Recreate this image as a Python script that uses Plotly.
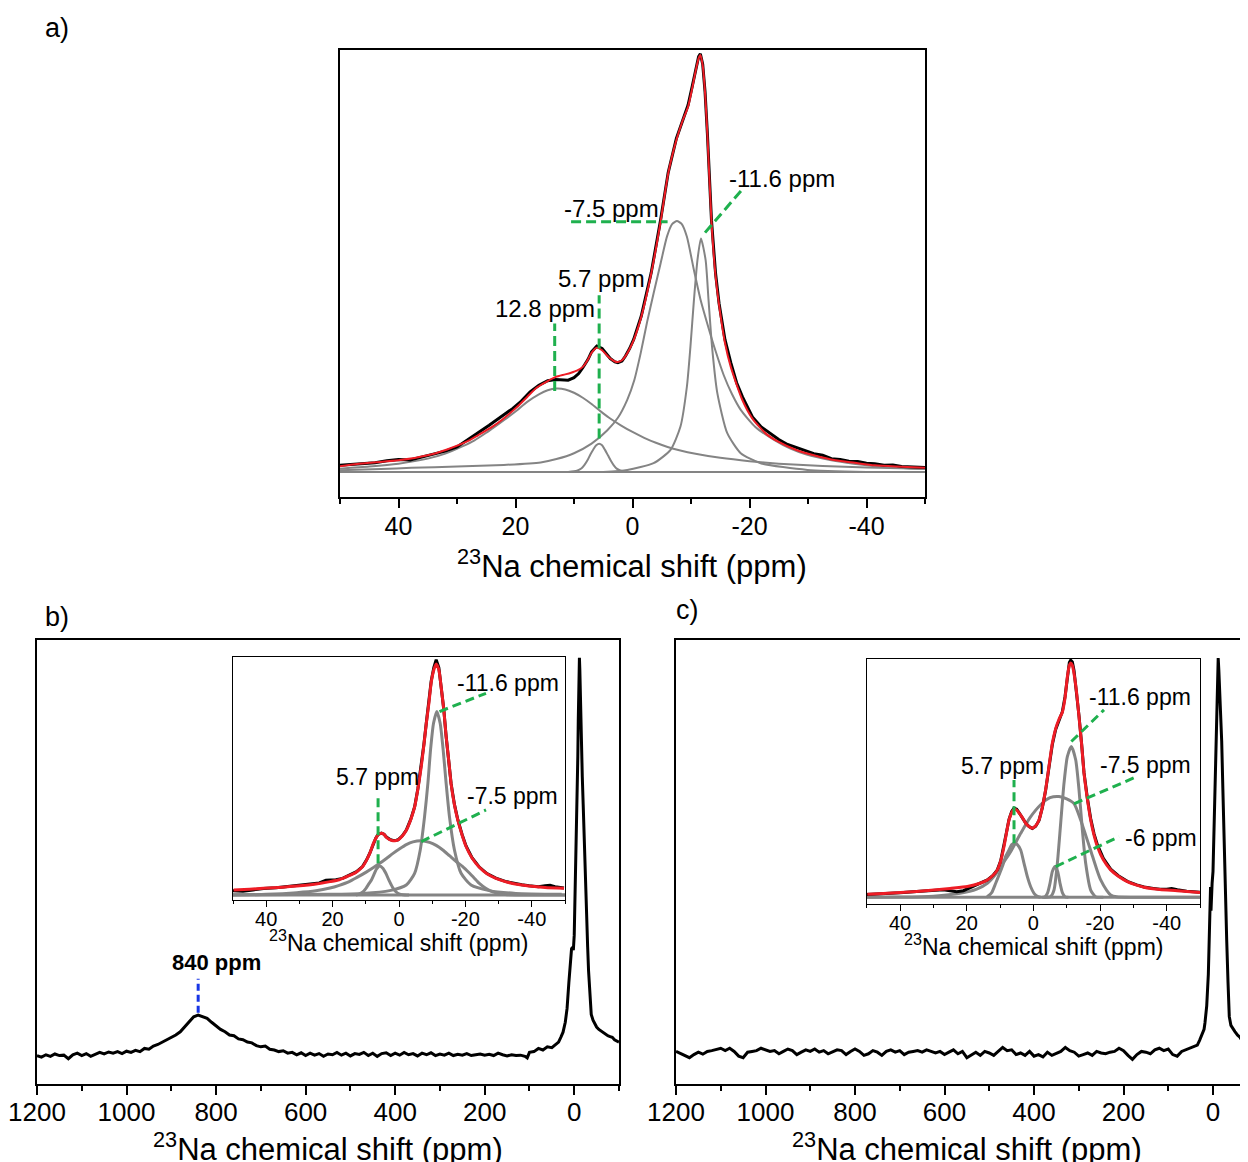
import plotly.graph_objects as go

# ---------------- DATA ----------------
# Panel a : (ppm, normalised intensity)
A_EXP = [(50, .016), (48, .018), (46, .021), (44, .022), (42, .027), (40, .030), (38, .029), (36, .036),
         (34, .042), (32, .050), (30, .060), (28, .078), (26.4, .094), (24.5, .112), (22.4, .134),
         (20.5, .152), (19, .170), (17.5, .192), (16, .208), (14.5, .219), (13.1, .222), (12, .221),
         (11, .220), (10, .226), (9.2, .236), (8.5, .250), (7.6, .270), (7.0, .288), (6.1, .302),
         (5.2, .296), (4.4, .282), (3.8, .272), (3.0, .264), (2.5, .262), (1.8, .266), (1.2, .278),
         (0.5, .296), (-0.2, .318), (-1.5, .374), (-3.2, .478), (-4.8, .604), (-6.1, .718), (-7.5, .800),
         (-8.5, .842), (-9.5, .880), (-10.2, .924), (-10.8, .966), (-11.3, .996), (-11.6, 1.003),
         (-12.0, .978), (-12.4, .912), (-12.8, .812), (-13.5, .604), (-14.2, .476), (-14.8, .404),
         (-15.8, .318), (-16.8, .262), (-17.8, .214), (-18.8, .180), (-20.5, .132), (-22, .108),
         (-22.8, .100), (-24, .086), (-25, .078), (-26.5, .066), (-28.1, .058), (-29.5, .050), (-31, .044),
         (-32.5, .040), (-34, .032), (-35.5, .030), (-37, .026), (-38.5, .025), (-40, .021), (-41.4, .020),
         (-43, .016), (-44.5, .017), (-46, .013), (-48, .012), (-50, .011)]
A_FIT = [(50, .014), (45, .022), (40, .028), (35, .040), (31.7, .054), (28, .075), (26.4, .088), (24, .108),
         (22.4, .124), (19.8, .155), (18, .180), (16.4, .202), (14.5, .218), (13.1, .228), (11.5, .234),
         (10.5, .238), (9.5, .243), (8.5, .252), (7.6, .270), (7.0, .286), (6.1, .298), (5.2, .292),
         (4.4, .280), (3.8, .272), (3.0, .265), (2.5, .264), (1.8, .268), (1.2, .278), (0.5, .295),
         (-0.2, .316), (-1.5, .372), (-3.2, .476), (-4.8, .600), (-6.1, .716), (-7.5, .796), (-8.5, .840),
         (-9.5, .876), (-10.2, .920), (-10.8, .962), (-11.3, .992), (-11.6, 1.0), (-12.0, .975),
         (-12.4, .910), (-12.8, .810), (-13.5, .600), (-14.2, .470), (-14.8, .400), (-15.8, .310),
         (-16.8, .252), (-18.8, .172), (-20.5, .128), (-22.8, .092), (-25, .072), (-28.1, .052), (-31, .040),
         (-34.7, .028), (-38, .022), (-41.4, .016), (-45, .013), (-50, .010)]
A_C128 = [(50, .008), (45, .013), (40, .02), (35, .032), (32, .044), (29, .062), (27, .076), (25, .094),
          (24, .104), (22, .124), (20, .145), (18, .168), (16, .186), (14.5, .196), (13, .200), (11.5, .198),
          (10, .190), (8.5, .178), (7, .163), (5.5, .146), (4, .130), (2, .112), (0, .096), (-2, .082),
          (-4, .070), (-6, .060), (-8, .052), (-11, .043), (-15, .034), (-20, .026), (-25, .020), (-30, .016),
          (-35, .013), (-40, .011), (-50, .008)]
A_C57 = [(11, 0), (9.5, .003), (8.7, .009), (8.2, .017), (7.7, .028), (7.2, .042), (6.7, .054), (6.2, .064),
         (5.7, .068), (5.2, .064), (4.7, .053), (4.2, .040), (3.7, .027), (3.2, .016), (2.7, .008), (2.0, .003),
         (0.5, 0)]
A_C75 = [(50, .004), (43, .007), (37.8, .010), (30, .013), (22, .017), (15.7, .023), (13, .031), (10, .045),
         (7, .068), (4.3, .100), (2.5, .130), (0.9, .173), (-0.3, .220), (-1.4, .285), (-2.5, .360),
         (-3.6, .428), (-4.8, .500), (-5.9, .565), (-6.8, .595), (-7.6, .602), (-8.4, .595), (-9.3, .564),
         (-10.5, .484), (-11.6, .415), (-12.8, .355), (-14.2, .290), (-15.6, .232), (-17, .187), (-18.5, .149),
         (-21, .108), (-24.2, .077), (-27, .056), (-29.9, .041), (-34, .028), (-37.8, .020), (-43, .012),
         (-50, .007)]
A_C116 = [(5, 0), (0.9, .005), (-3.6, .021), (-6.5, .053), (-8.2, .109), (-9.3, .205), (-9.9, .300),
          (-10.5, .412), (-11.1, .508), (-11.7, .560), (-12.5, .508), (-13.0, .412), (-13.6, .300),
          (-14.5, .189), (-16.2, .093), (-18.5, .045), (-21.9, .021), (-29.9, .005), (-40, 0)]
A_BASE = [(50, 0), (-50, 0)]
A_MARKS = [[(13.3, .194), (13.3, .356)], [(5.7, .08), (5.7, .424)],
           [(10.5, .60), (-6.0, .60)], [(-12.4, .574), (-18.9, .68)]]
A_LABELS = [("12.8 ppm", 15.0, .393), ("5.7 ppm", 5.3, .465), ("-7.5 ppm", 3.6, .633), ("-11.6 ppm", -25.6, .703)]

# Panel b : full spectrum (ppm, intensity)
B_EXP = [(1200, -.004), (1190, -.008), (1180, -.002), (1170, -.006), (1160, .000), (1150, -.004), (1140, -.003),
         (1130, -.012), (1120, -.002), (1110, .002), (1100, -.004), (1090, .001), (1080, -.006), (1070, -.001),
         (1060, .004), (1050, .000), (1040, .005), (1030, .002), (1020, .006), (1010, .001), (1000, .007),
         (990, .004), (980, .009), (970, .006), (960, .014), (950, .012), (940, .020), (930, .024), (920, .030),
         (910, .034), (900, .040), (890, .048), (880, .056), (870, .068), (860, .080), (850, .094), (840, .098),
         (830, .094), (820, .090), (810, .080), (800, .070), (790, .062), (780, .056), (770, .048), (760, .046),
         (750, .038), (740, .036), (730, .030), (720, .028), (710, .021), (700, .018), (690, .020), (680, .012),
         (670, .010), (660, .006), (650, .008), (640, .002), (630, .004), (620, -.002), (610, .003), (600, -.004),
         (590, .002), (580, -.003), (570, .001), (560, -.006), (550, .000), (540, -.002), (530, .004),
         (520, -.003), (510, .002), (500, -.005), (490, .001), (480, -.001), (470, .004), (460, -.004),
         (450, .002), (440, -.006), (430, .001), (420, .003), (410, -.004), (400, .002), (390, -.003),
         (380, .004), (370, -.002), (360, .001), (350, -.005), (340, .002), (330, -.002), (320, .003),
         (310, -.004), (300, .000), (290, -.003), (280, .002), (270, -.004), (260, -.001), (250, -.003),
         (240, .001), (230, -.004), (220, -.002), (210, .000), (200, -.003), (190, -.001), (180, -.004),
         (170, .002), (160, -.002), (150, -.005), (140, -.002), (130, -.004), (120, -.003), (110, -.006),
         (105, -.010), (100, .004), (90, .006), (80, .014), (70, .010), (60, .018), (50, .016), (40, .026),
         (35, .030), (30, .042), (25, .055), (20, .080), (16, .115), (12, .180), (8, .250), (6, .265),
         (4, .270), (2, .262), (0, .300), (-2, .400), (-4, .520), (-6, .630), (-8, .750), (-9, .840),
         (-10, .930), (-11, .990), (-11.6, 1.0), (-12.5, .970), (-14, .880), (-16, .780), (-18, .700),
         (-20, .630), (-22, .550), (-24, .460), (-26, .390), (-28, .330), (-30, .270), (-32, .210),
         (-34, .160), (-36, .120), (-38, .100), (-42, .085), (-46, .075), (-50, .068), (-55, .062),
         (-60, .058), (-65, .052), (-70, .050), (-75, .046), (-80, .044), (-85, .042), (-90, .036),
         (-95, .032), (-100, .030)]
B_MARK_840 = [(840, .104), (840, .19)]
B_LABEL_840 = ("840 ppm", 799, .232)

# Panel b inset
BI_EXP = [(50, .018), (47, .016), (44, .022), (40.8, .028), (37, .031), (34, .036), (30.8, .040), (27, .045),
          (24, .052), (22, .064), (20.5, .066), (19, .066), (17, .072), (15.8, .080), (14, .091), (12.8, .101),
          (11, .123), (9.8, .151), (8.8, .181), (7.8, .221), (7, .246), (6.3, .262), (5.3, .268), (4.5, .263),
          (3.8, .251), (2.8, .241), (1.8, .236), (0.8, .237), (0.3, .239), (-1, .256), (-2.2, .281),
          (-3.5, .326), (-4.7, .381), (-5.7, .461), (-6.7, .556), (-7.5, .652), (-8.2, .742), (-9, .834),
          (-9.7, .926), (-10.5, .985), (-11.2, 1.018), (-12, .984), (-12.7, .905), (-13.5, .802), (-14.2, .687),
          (-15, .582), (-15.7, .482), (-16.7, .392), (-17.7, .327), (-19, .262), (-20.2, .212), (-22, .162),
          (-24.2, .121), (-26.5, .093), (-29.2, .073), (-32, .059), (-34.2, .051), (-37, .044), (-39.2, .040),
          (-42, .036), (-44, .040), (-45.5, .042), (-47, .036), (-49.7, .030)]
BI_FIT = [(49.8, .022), (45, .025), (40.8, .029), (35, .034), (30.8, .039), (25, .048), (20.8, .058), (18, .066),
          (15.8, .079), (14, .090), (12.8, .100), (11, .122), (9.8, .150), (8.8, .180), (7.8, .220), (7, .245),
          (6.3, .260), (5.3, .267), (4.5, .262), (3.8, .250), (2.8, .240), (1.8, .235), (0.8, .236), (0.3, .238),
          (-1, .255), (-2.2, .280), (-3.5, .325), (-4.7, .380), (-5.7, .460), (-6.7, .555), (-7.5, .650),
          (-8.2, .740), (-9, .830), (-9.7, .920), (-10.5, .975), (-11.2, 1.0), (-12, .975), (-12.7, .900),
          (-13.5, .800), (-14.2, .685), (-15, .580), (-15.7, .480), (-16.7, .390), (-17.7, .325), (-19, .260),
          (-20.2, .210), (-22, .160), (-24.2, .120), (-26.5, .092), (-29.2, .072), (-32, .058), (-34.2, .050),
          (-37, .043), (-39.2, .039), (-44, .033), (-49.7, .029)]
BI_C116 = [(50, .001), (20.8, .003), (10.8, .007), (2.8, .019), (-2.2, .043), (-4.7, .094), (-6.4, .195),
           (-7.7, .339), (-8.7, .483), (-9.5, .628), (-10.4, .743), (-11.4, .794), (-12.4, .743), (-13.3, .628),
           (-14.2, .483), (-15.2, .339), (-16.7, .195), (-18.7, .094), (-21.7, .043), (-27.2, .019),
           (-35.2, .007), (-49, .003)]
BI_C75 = [(50, 0), (40, .003), (30.8, .010), (25, .018), (20.8, .030), (18, .042), (15, .058), (12.8, .075),
          (10, .098), (7.8, .118), (5.8, .137), (3.8, .158), (1.8, .180), (-0.2, .200), (-2.2, .218),
          (-4.2, .230), (-6.7, .235), (-9.2, .228), (-11.2, .215), (-13.2, .195), (-15.2, .170), (-17.2, .145),
          (-19.2, .123), (-21.2, .095), (-23.2, .065), (-24.2, .050), (-26, .030), (-27.5, .018), (-29.2, .010),
          (-32, .002), (-40, 0), (-50, 0)]
BI_C57 = [(13, 0), (12, .004), (11, .012), (10, .028), (9, .050), (8.3, .065), (7.5, .090), (6.8, .112),
          (5.8, .126), (4.8, .115), (4, .095), (3, .063), (2, .035), (1, .015), (0, .005), (-1.2, .001), (-3, 0)]
BI_BASE = [(50, 0), (-50, 0)]
BI_MARKS = [[(6.3, .137), (6.3, .44)], [(-12.2, .794), (-26.2, .873)], [(-6.7, .231), (-26.2, .368)]]
BI_LABELS = [("5.7 ppm", 6.6, .51), ("-11.6 ppm", -32.8, .918), ("-7.5 ppm", -34.3, .43)]

# Panel c : full spectrum
C_EXP = [(1200, .004), (1190, -.002), (1180, -.006), (1170, -.012), (1160, -.004), (1150, .002), (1140, -.003),
         (1130, .004), (1120, .006), (1110, .010), (1100, .012), (1090, .006), (1080, .012), (1070, .004),
         (1060, -.008), (1050, -.012), (1040, .002), (1030, .004), (1020, .006), (1010, .012), (1000, .008),
         (990, .004), (980, .006), (970, -.002), (960, .004), (950, .010), (940, .006), (930, -.004), (920, .002),
         (910, .008), (900, .004), (890, .010), (880, .002), (870, .006), (860, -.002), (850, .004), (840, .008),
         (830, .006), (820, -.004), (810, .004), (800, .010), (790, .004), (780, -.006), (770, -.002),
         (760, .006), (750, .002), (740, -.006), (730, .004), (720, .008), (710, .002), (700, .006),
         (690, -.004), (680, .002), (670, .004), (660, .006), (650, .002), (640, .008), (630, .004), (620, .000),
         (610, .004), (600, -.004), (590, .002), (580, .008), (570, -.002), (560, .004), (550, -.012),
         (540, -.004), (530, .002), (520, -.006), (510, .004), (500, .000), (490, -.006), (480, .004),
         (470, .014), (460, .006), (450, .008), (440, -.004), (430, .000), (420, -.006), (410, .004),
         (400, -.008), (390, -.004), (380, -.010), (370, .002), (360, -.006), (350, .000), (340, .004),
         (330, .014), (320, .006), (310, .002), (300, -.008), (290, -.004), (280, .000), (270, -.006),
         (260, .004), (250, .000), (240, -.002), (230, .002), (220, .004), (210, .012), (200, .006),
         (190, -.006), (180, -.016), (170, -.004), (160, .004), (150, .002), (140, -.002), (130, .008),
         (120, .012), (110, .006), (100, .010), (90, -.004), (80, -.008), (70, .004), (60, .008), (50, .012),
         (40, .016), (35, .020), (30, .032), (25, .046), (20, .060), (18, .076), (14, .120), (10.4, .200),
         (8, .300), (6.7, .350), (5.5, .420), (4.5, .360), (3.5, .400), (2, .430), (0, .460), (-2, .550),
         (-4.5, .620), (-6.5, .740), (-8.2, .835), (-10, .940), (-11.6, 1.0), (-13, .970), (-15, .920),
         (-17, .860), (-19.4, .790), (-22, .670), (-24.6, .540), (-27.5, .410), (-30.6, .286), (-33.5, .180),
         (-36.4, .092), (-40, .070), (-45, .060), (-49, .054), (-55, .045), (-60, .040), (-64, .033),
         (-70, .020), (-75, .010), (-78, .004)]

# Panel c inset
CI_EXP = [(50, .012), (45, .015), (40, .019), (35, .025), (30, .031), (27, .032), (25, .028), (23, .024),
          (21, .028), (19.8, .036), (18, .046), (16, .060), (13.8, .074), (12, .095), (10.8, .117), (9.8, .156),
          (8.8, .218), (8, .282), (7.3, .333), (6.5, .366), (5.8, .381), (5, .376), (4.3, .362), (3.3, .341),
          (2.3, .317), (1.3, .302), (0.3, .294), (-0.7, .303), (-1.7, .328), (-2.7, .383), (-3.7, .458),
          (-4.7, .556), (-5.7, .652), (-6.7, .716), (-7.7, .758), (-8.7, .792), (-9.5, .856), (-10.2, .950),
          (-10.8, 1.002), (-11.2, 1.012), (-11.7, 1.004), (-12.2, .968), (-13, .878), (-13.7, .774),
          (-14.5, .652), (-15.2, .532), (-16.2, .424), (-17.2, .336), (-18.2, .272), (-19.2, .225), (-21, .166),
          (-23.2, .120), (-25.5, .092), (-28.2, .068), (-31, .053), (-33.2, .044), (-36, .038), (-38, .034),
          (-40, .034), (-41.5, .037), (-43.2, .032), (-46, .026), (-50, .022)]
CI_FIT = [(49.8, .013), (45, .016), (39.8, .020), (35, .025), (29.8, .031), (25, .038), (19.8, .046), (16, .060),
          (13.8, .074), (12, .095), (10.8, .117), (9.8, .155), (8.8, .217), (8, .280), (7.3, .330), (6.5, .362),
          (5.8, .376), (5, .372), (4.3, .360), (3.3, .340), (2.3, .316), (1.3, .302), (0.3, .295), (-0.7, .305),
          (-1.7, .330), (-2.7, .385), (-3.7, .460), (-4.7, .560), (-5.7, .658), (-6.7, .720), (-7.7, .760),
          (-8.7, .790), (-9.5, .850), (-10.2, .940), (-10.8, .990), (-11.2, 1.0), (-11.7, .990), (-12.2, .955),
          (-13, .870), (-13.7, .770), (-14.5, .650), (-15.2, .530), (-16.2, .420), (-17.2, .330), (-18.2, .265),
          (-19.2, .217), (-21, .160), (-23.2, .117), (-25.5, .090), (-28.2, .067), (-31, .052), (-33.2, .043),
          (-38, .033), (-43.2, .028), (-50, .020)]
CI_C57 = [(14, 0), (12.5, .020), (11.3, .060), (10.3, .095), (9.3, .131), (8.3, .175), (7.3, .202), (6.5, .225),
          (5.6, .231), (4.8, .225), (3.8, .202), (2.8, .145), (1.8, .088), (0.8, .045), (-0.2, .017),
          (-1.2, .004), (-2.2, 0)]
CI_C75 = [(50, 0), (40, .001), (30, .005), (22, .017), (17, .035), (13.8, .060), (11.5, .095), (9.8, .131),
          (7, .190), (3.8, .273), (1, .340), (-2.2, .395), (-5, .425), (-7.7, .430), (-10, .420), (-12.2, .400),
          (-14.2, .330), (-15.7, .265), (-17.2, .200), (-19, .120), (-20.2, .074), (-22, .030), (-23.2, .010),
          (-25, .002), (-30, 0), (-50, 0)]
CI_C116 = [(-3, 0), (-5.2, .003), (-6.2, .031), (-7.2, .145), (-8.2, .316), (-9.2, .487), (-10.2, .600),
           (-11.4, .644), (-12.7, .587), (-13.7, .459), (-14.7, .288), (-15.7, .145), (-17.2, .031),
           (-18.7, .002), (-21, 0)]
CI_C6 = [(-2.5, 0), (-3.5, .002), (-4.3, .020), (-5, .060), (-5.7, .110), (-6.5, .131), (-7.3, .110),
         (-8, .060), (-8.7, .020), (-9.5, .002), (-10.5, 0)]
CI_BASE = [(50, 0), (-50, 0)]
CI_MARKS = [[(5.8, .231), (5.8, .501)], [(-11.4, .665), (-21.2, .80)],
            [(-12.2, .399), (-31.2, .516)], [(-6.7, .131), (-25.7, .259)]]
CI_LABELS = [("5.7 ppm", 9.2, .562), ("-11.6 ppm", -32.0, .856), ("-7.5 ppm", -33.7, .565), ("-6 ppm", -38.2, .254)]

# tick values / labels
NARROW_TICKS = [40, 20, 0, -20, -40]
NARROW_TICKTEXT = ["40", "20", "0", "-20", "-40"]
NARROW_MINOR = [50, 30, 10, -10, -30, -50]
WIDE_TICKS = [1200, 1000, 800, 600, 400, 200, 0]
WIDE_TICKTEXT = ["1200", "1000", "800", "600", "400", "200", "0"]
WIDE_MINOR = [1100, 900, 700, 500, 300, 100, -100]

XTITLE = "<sup>23</sup>Na chemical shift (ppm)"

# ---------------- STYLE / LAYOUT ----------------
OFF = 8                      # page body margin of the html page
W, H = 1248 - OFF, 1162 - OFF
FONT = "Liberation Sans, Arial, Helvetica, sans-serif"
RED = "#ee1c25"
GRAY = "#848484"
GREEN = "#1fb04e"
BLUE = "#1836e6"


def xd(left, right):
    return [(left - OFF) / W, min((right - OFF) / W, 1.0)]


def yd(top, bottom):
    return [1 - (bottom - OFF) / H, 1 - (top - OFF) / H]


fig = go.Figure()


def add_line(pairs, xa, ya, color, width, shape="spline", dash=None, smoothing=0.6):
    x = [p[0] for p in pairs]
    y = [p[1] for p in pairs]
    line = dict(color=color, width=width, shape=shape)
    if shape == "spline":
        line["smoothing"] = smoothing
    if dash:
        line["dash"] = dash
    fig.add_trace(go.Scatter(x=x, y=y, mode="lines", xaxis=xa, yaxis=ya, line=line,
                             hoverinfo="skip", showlegend=False, cliponaxis=True))


# Panel a
for comp in (A_BASE, A_C128, A_C57, A_C75, A_C116):
    add_line(comp, "x", "y", GRAY, 2)
add_line(A_EXP, "x", "y", "black", 3, shape="linear")
add_line(A_FIT, "x", "y", RED, 2)
for mk in A_MARKS:
    add_line(mk, "x", "y", GREEN, 3, shape="linear", dash="10px,5px")

# Panel b main
add_line(B_EXP, "x2", "y2", "black", 3, shape="linear")
add_line(B_MARK_840, "x2", "y2", BLUE, 3, shape="linear", dash="7px,4px")

# Panel c main
add_line(C_EXP, "x3", "y3", "black", 3, shape="linear")

# Inset b
for comp in (BI_BASE, BI_C75, BI_C57, BI_C116):
    add_line(comp, "x4", "y4", GRAY, 3)
add_line(BI_EXP, "x4", "y4", "black", 3, shape="linear")
add_line(BI_FIT, "x4", "y4", RED, 3)
for mk in BI_MARKS:
    add_line(mk, "x4", "y4", GREEN, 3, shape="linear", dash="9px,5px")

# Inset c
for comp in (CI_BASE, CI_C75, CI_C57, CI_C116, CI_C6):
    add_line(comp, "x5", "y5", GRAY, 3)
add_line(CI_EXP, "x5", "y5", "black", 3, shape="linear")
add_line(CI_FIT, "x5", "y5", RED, 3)
for mk in CI_MARKS:
    add_line(mk, "x5", "y5", GREEN, 3, shape="linear", dash="9px,5px")


def xaxis(domain, rng, anchor, ticks, ticktext, minor, fsize, tlen, mlen, lw, standoff, mirror=True):
    return dict(domain=domain, range=rng, anchor=anchor, showline=True, mirror=mirror, automargin=False,
                linecolor="black", linewidth=lw, ticks="outside", ticklen=tlen, tickwidth=lw,
                tickcolor="black", tickmode="array", tickvals=ticks, ticktext=ticktext,
                ticklabelstandoff=standoff,
                tickfont=dict(size=fsize, color="black", family=FONT),
                minor=dict(tickmode="array", tickvals=minor, ticks="outside", ticklen=mlen,
                           tickwidth=lw, tickcolor="black"),
                showgrid=False, zeroline=False, fixedrange=True)


def yaxis(domain, rng, anchor, lw, mirror=True):
    return dict(domain=domain, range=rng, anchor=anchor, showline=True, mirror=mirror, automargin=False,
                linecolor="black", linewidth=lw, ticks="", showticklabels=False,
                showgrid=False, zeroline=False, fixedrange=True)


fig.update_layout(
    width=W, height=H, autosize=False,
    margin=dict(l=0, r=0, t=0, b=0, pad=0, autoexpand=False),
    paper_bgcolor="white", plot_bgcolor="white",
    font=dict(family=FONT, color="black"),
    showlegend=False,
    xaxis=xaxis(xd(340, 925), [50, -50], "y", NARROW_TICKS, NARROW_TICKTEXT, NARROW_MINOR, 25, 9, 5, 1.5, -3),
    yaxis=yaxis(yd(50, 497), [-0.06, 1.012], "x", 1.5),
    xaxis2=xaxis(xd(37, 619), [1200, -100], "y2", WIDE_TICKS, WIDE_TICKTEXT, WIDE_MINOR, 26, 9, 5, 1.5, -5),
    yaxis2=yaxis(yd(640, 1084), [-0.0758, 1.045], "x2", 1.5),
    xaxis3=xaxis(xd(676, 1248), [1200, -78.2], "y3", WIDE_TICKS, WIDE_TICKTEXT, WIDE_MINOR, 26, 9, 5, 1.5, -5),
    yaxis3=yaxis(yd(640, 1084), [-0.0785, 1.0456], "x3", 1.5, mirror=False),
    xaxis4=xaxis(xd(233, 565), [50, -50], "y4", NARROW_TICKS, NARROW_TICKTEXT, NARROW_MINOR, 20, 6, 3, 1.2, -5),
    yaxis4=yaxis(yd(657, 900), [-0.0216, 1.03], "x4", 1.2),
    xaxis5=xaxis(xd(866.7, 1200), [50, -50], "y5", NARROW_TICKS, NARROW_TICKTEXT, NARROW_MINOR, 20, 6, 3, 1.2, -5),
    yaxis5=yaxis(yd(659, 904), [-0.0286, 1.017], "x5", 1.2),
)


def paper_text(text, px, py, size):
    fig.add_annotation(x=(px - OFF) / W, y=1 - (py - OFF) / H, xref="paper", yref="paper", text=text,
                       showarrow=False, xanchor="center", yanchor="middle",
                       font=dict(size=size, color="black", family=FONT))


def data_text(text, x, y, xa, ya, size):
    fig.add_annotation(x=x, y=y, xref=xa, yref=ya, text=text, showarrow=False,
                       xanchor="center", yanchor="middle",
                       font=dict(size=size, color="black", family=FONT))


# panel letters
paper_text("a)", 57, 28, 27)
paper_text("b)", 57, 617, 27)
paper_text("c)", 687, 610, 27)

# axis titles
paper_text(XTITLE, 632, 564, 31)
paper_text(XTITLE, 328, 1147, 31)
paper_text(XTITLE, 967, 1147, 31)
paper_text(XTITLE, 398, 941, 23)
paper_text(XTITLE, 1033, 945, 23)

for t, x, y in A_LABELS:
    data_text(t, x, y, "x", "y", 24)
for t, x, y in BI_LABELS:
    data_text(t, x, y, "x4", "y4", 23)
for t, x, y in CI_LABELS:
    data_text(t, x, y, "x5", "y5", 23)
data_text("<b>" + B_LABEL_840[0] + "</b>", B_LABEL_840[1], B_LABEL_840[2], "x2", "y2", 22)

fig.write_html("out.html")
